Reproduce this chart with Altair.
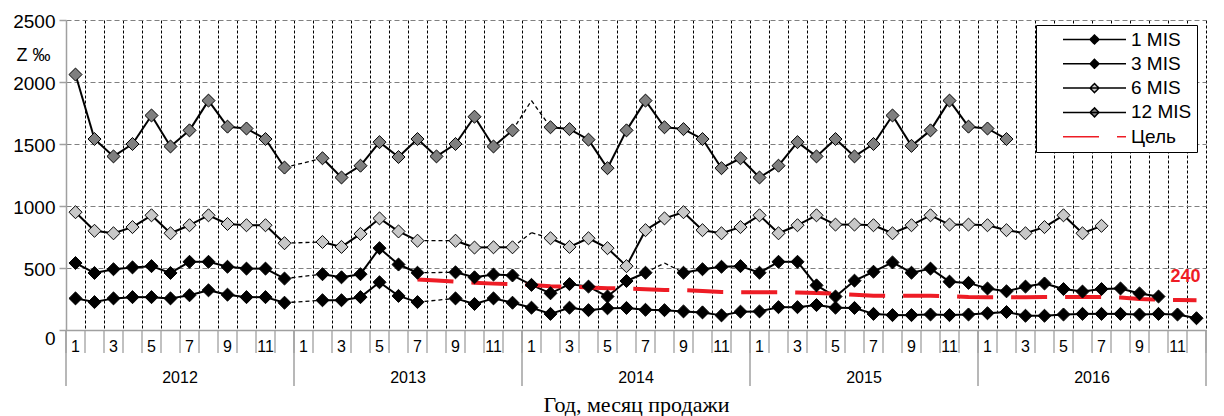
import altair as alt
import pandas as pd

# ---------------- data ----------------
YEARS = [2012, 2013, 2014, 2015, 2016]
MONTHS_PER_YEAR = 12
TICK_MONTHS = [1, 3, 5, 7, 9, 11]
SERIES = ["1 MIS", "3 MIS", "6 MIS", "12 MIS"]
TARGET_NAME = "Цель"
Y_TICKS = [0, 500, 1000, 1500, 2000, 2500]
X_TITLE = "Год, месяц продажи"
Y_TITLE = "Z ‰"

MIS1 = [255, 225, 255, 265, 265, 255, 280, 320, 285, 265, 265, 220,
        None, 240, 240, 265, 385, 275, 225, None, 255, 210, 255, 220,
        180, 130, 180, 160, 175, 178, 163, 160, 150, 142, 118, 148,
        150, 184, 184, 201, 180, 178, 130, 120, 120, 125, 120, 125,
        135, 145, 115, 115, 125, 130, 130, 130, 125, 130, 125, 95]
MIS3 = [540, 460, 490, 505, 515, 460, 550, 550, 510, 495, 495, 415,
        None, 450, 425, 450, 660, 528, 462, None, 465, 425, 447, 440,
        364, 296, 370, 350, 270, 395, 462, 540, 462, 490, 510, 515,
        462, 550, 550, 360, 270, 398, 470, 545, 462, 495, 390, 380,
        335, 312, 350, 375, 330, 310, 330, 335, 295, 270, None, None]
MIS6 = [950, 800, 780, 830, 925, 780, 845, 925, 855, 845, 845, 700,
        None, 710, 670, 775, 900, 795, 720, None, 720, 665, 667, 667,
        785, 740, 670, 740, 660, 515, 805, 900, 950, 805, 780, 830,
        925, 780, 845, 925, 850, 850, 845, 780, 845, 925, 850, 850,
        845, 805, 780, 830, 925, 780, 840, None, None, None, None, None]
MIS12 = [2060, 1540, 1400, 1500, 1730, 1480, 1610, 1850, 1640, 1625, 1540, 1310,
         None, 1385, 1230, 1325, 1515, 1395, 1540, 1400, 1500, 1720, 1480, 1610,
         1850, 1635, 1620, 1535, 1305, 1610, 1850, 1635, 1620, 1540, 1305, 1385,
         1230, 1325, 1515, 1400, 1540, 1400, 1500, 1730, 1485, 1610, 1850, 1640,
         1625, 1540, None, None, None, None, None, None, None, None, None, None]
# points drawn only as a dashed line (no marker)
UNMARKED_3 = [31]
UNMARKED_6 = [24]
UNMARKED_12 = [24]

TARGET_START = 18
TARGET = [408, 400, 389, 382, 374, 369, 362, 352, 349, 343, 337, 334,
          328, 323, 321, 314, 307, 304, 304, 304, 302, 298, 292, 284,
          277, 276, 276, 276, 274, 266, 264, 264, 264, 266, 267, 267,
          267, 262, 250, 244, 242, 240]
TARGET_LABEL = "240"

# ---------------- styles ----------------
FILL = {"1 MIS": "#000000", "3 MIS": "#000000", "6 MIS": "#c8c8c8", "12 MIS": "#7f7f7f"}
RED = "#ee1c25"
GREY = "#a0a0a0"
MARKER_PATH = "M-6.3,0L6.3,0M0,-0.9L0.9,0L0,0.9L-0.9,0Z"
LINE_PATH = "M-6.3,0L6.3,0"
NB = "\u00a0"

n = len(YEARS) * MONTHS_PER_YEAR
values = {"1 MIS": MIS1, "3 MIS": MIS3, "6 MIS": MIS6, "12 MIS": MIS12}
unmarked = {"1 MIS": [], "3 MIS": UNMARKED_3, "6 MIS": UNMARKED_6, "12 MIS": UNMARKED_12}

seg_rows, pt_rows = [], []
for name in SERIES:
    hidden = set(unmarked[name])
    pts = [(i, v) for i, v in enumerate(values[name]) if v is not None]
    for i, v in pts:
        if i not in hidden:
            pt_rows.append({"series": name, "i": i, "value": v, "fc": FILL[name]})
    for k in range(len(pts) - 1):
        (a, va), (b, vb) = pts[k], pts[k + 1]
        solid = (b == a + 1) and (a not in hidden) and (b not in hidden)
        sid = f"{name}_{k}"
        for ii, vv in ((a, va), (b, vb)):
            seg_rows.append({"series": name, "seg": sid, "i": ii, "value": vv,
                             "style": "solid" if solid else "dashed"})
seg_df = pd.DataFrame(seg_rows)
pt_df = pd.DataFrame(pt_rows)
target_df = pd.DataFrame({"i": [TARGET_START + k for k in range(len(TARGET))], "value": TARGET})
label_df = pd.DataFrame({"i": [TARGET_START + len(TARGET) - 1], "value": [TARGET[-1]], "label": [TARGET_LABEL]})

month_bounds = pd.DataFrame({"i": [k - 0.5 for k in range(n + 1)]})
year_bounds = pd.DataFrame({"i": [k * MONTHS_PER_YEAR - 0.5 for k in range(len(YEARS) + 1)]})
mlab = pd.DataFrame([{"i": k * MONTHS_PER_YEAR + m - 1, "label": str(m)}
                     for k in range(len(YEARS)) for m in TICK_MONTHS])
ylab = pd.DataFrame([{"i": k * MONTHS_PER_YEAR + 5.5, "label": str(y)} for k, y in enumerate(YEARS)])

# ---------------- encodings ----------------
x_main = alt.X("i:Q",
               scale=alt.Scale(domain=[-0.5, n - 0.5], nice=False, zero=False),
               axis=alt.Axis(values=[k + 0.5 for k in range(n)], tickCount=200, grid=True, gridDash=[3, 2],
                             gridColor="#000000", gridWidth=1, gridOpacity=1, labels=False, ticks=False,
                             domain=True, domainColor=GREY, domainWidth=1.5,
                             title=X_TITLE, titleFont="Liberation Serif", titleFontSize=22,
                             titleFontWeight="normal", titleColor="black",
                             titleY=74, titleBaseline="middle"))
y_main = alt.Y("value:Q",
               scale=alt.Scale(domain=[0, 2500], nice=False, zero=True),
               axis=alt.Axis(values=Y_TICKS, format="d", grid=True, gridDash=[5, 3], gridColor="#808080",
                             gridWidth=1, gridOpacity=1, domainColor=GREY, domainWidth=1.5, tickColor=GREY,
                             tickSize=7, tickWidth=1.5, labelFont="Liberation Sans",
                             labelFontSize=19, labelColor="black", labelPadding=4,
                             labelOffset={"condition": {"test": "datum.value === 0", "value": 8}, "value": 1},
                             title=Y_TITLE, titleAngle=0, titleX=-33, titleY=35,
                             titleAlign="center", titleBaseline="middle",
                             titleFont="Liberation Sans", titleFontSize=18,
                             titleFontWeight="normal", titleColor="black"))
x = alt.X("i:Q")
y = alt.Y("value:Q")

solid = alt.Chart(seg_df).transform_filter("datum.style == 'solid'").mark_line(
    color="black", strokeWidth=2).encode(x=x_main, y=y_main, detail="seg:N", order="i:Q")
dashed = alt.Chart(seg_df).transform_filter("datum.style == 'dashed'").mark_line(
    color="black", strokeWidth=1.3, strokeDash=[4, 3]).encode(x=x, y=y, detail="seg:N", order="i:Q")
target = alt.Chart(target_df).mark_line(
    color=RED, strokeWidth=4, strokeDash=[36, 18], strokeCap="butt").encode(x=x, y=y, order="i:Q")
points = alt.Chart(pt_df).mark_point(
    filled=True, shape="diamond", size=170, opacity=1, stroke="black", strokeWidth=1).encode(
    x=x, y=y, fill=alt.Fill("fc:N", scale=None))
tlabel = alt.Chart(label_df).mark_text(
    color=RED, fontWeight="bold", fontSize=18, font="Liberation Sans", align="right",
    baseline="middle", dx=4, dy=-23).encode(x=x, y=y, text="label:N")

leg_domain = SERIES + [TARGET_NAME]
legend = alt.Legend(title=None, orient="none", legendX=970, legendY=5, padding=5,
                    fillColor="white", strokeColor="black",
                    labelFont="Liberation Sans", labelFontSize=19, labelColor="black",
                    labelExpr="datum.label + '" + NB * 6 + "'",
                    symbolSize=100, symbolOffset=44, labelOffset=27, rowPadding=4.3)
legend_layer = alt.Chart(pd.DataFrame({"series": leg_domain})).transform_filter("false").mark_point(
    filled=True, opacity=1).encode(
    color=alt.Color("series:N", scale=alt.Scale(domain=leg_domain,
                    range=[FILL[s] for s in SERIES] + ["transparent"]), legend=legend),
    shape=alt.Shape("series:N", scale=alt.Scale(domain=leg_domain,
                    range=[MARKER_PATH] * 4 + [LINE_PATH]), legend=legend),
    stroke=alt.Stroke("series:N", scale=alt.Scale(domain=leg_domain,
                      range=["black"] * 4 + [RED]), legend=legend),
    strokeDash=alt.StrokeDash("series:N", scale=alt.Scale(domain=leg_domain,
                              range=[[1, 0]] * 4 + [[36, 18]]), legend=legend),
)

mon_sep = alt.Chart(month_bounds).mark_rule(color=GREY, strokeWidth=1.3).encode(
    x=x, y=alt.value(310), y2=alt.value(333))
year_sep = alt.Chart(year_bounds).mark_rule(color=GREY, strokeWidth=1.5).encode(
    x=x, y=alt.value(310), y2=alt.value(366))
mon_txt = alt.Chart(mlab).mark_text(fontSize=16, font="Liberation Sans", color="black",
                                    baseline="middle", align="center").encode(
    x=x, y=alt.value(327), text="label:N")
year_txt = alt.Chart(ylab).mark_text(fontSize=16, font="Liberation Sans", color="black",
                                     baseline="middle", align="center").encode(
    x=x, y=alt.value(358), text="label:N")

chart = alt.layer(solid, dashed, target, points, tlabel, legend_layer,
                  mon_sep, year_sep, mon_txt, year_txt).properties(
    width=1140, height=310,
    padding={"left": 58, "top": 12, "right": 10, "bottom": 86},
    autosize=alt.AutoSizeParams(type="none"),
).configure_view(stroke="transparent")

chart.save("out.html", embed_options={"renderer": "svg", "actions": False})
